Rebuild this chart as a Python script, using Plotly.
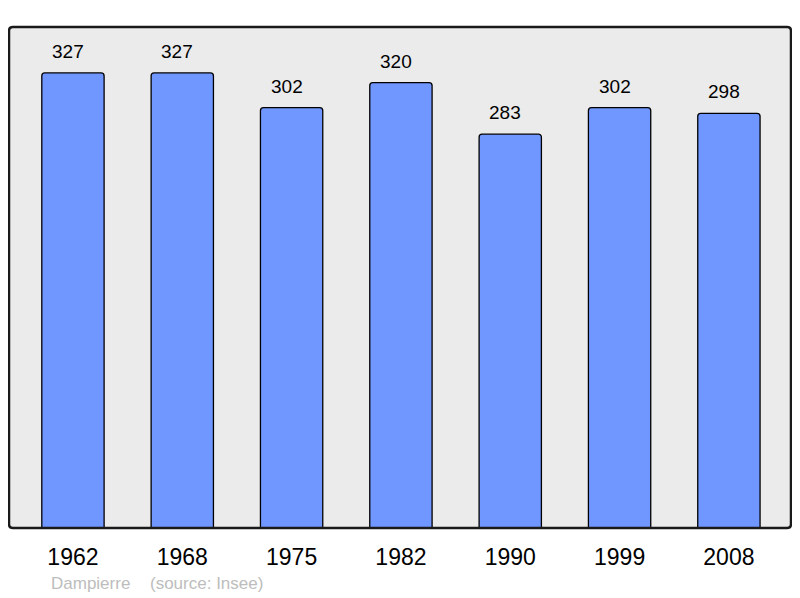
import plotly.graph_objects as go

years = ["1962", "1968", "1975", "1982", "1990", "1999", "2008"]
population = [327, 327, 302, 320, 283, 302, 298]
commune = "Dampierre"
source = "(source: Insee)"

FONT = "Liberation Sans, Arial, sans-serif"

fig = go.Figure()
fig.add_trace(go.Bar(
    x=list(range(len(years))), y=population,
    width=0.57,
    marker=dict(color="#7096ff", line=dict(color="#000000", width=1.3), cornerradius=3),
    hoverinfo="skip",
))

for i, v in enumerate(population):
    fig.add_annotation(x=i, y=v, xref="x", yref="y", text=str(v), showarrow=False,
                       yanchor="bottom", yshift=9, xshift=-5,
                       font=dict(family=FONT, size=19, color="#000"))

fig.add_annotation(xref="paper", yref="paper", x=0.0512, y=-0.11, xanchor="left", yanchor="middle",
                   text=commune, showarrow=False,
                   font=dict(family=FONT, size=17, color="#bdbdbd"))
fig.add_annotation(xref="paper", yref="paper", x=0.1777, y=-0.11, xanchor="left", yanchor="middle",
                   text=source, showarrow=False,
                   font=dict(family=FONT, size=17, color="#bdbdbd"))

# rounded border around plot area (paper coords)
rx, ry = 0.005, 0.008
path = (f"M {rx},0 L {1-rx},0 Q 1,0 1,{ry} L 1,{1-ry} Q 1,1 {1-rx},1 "
        f"L {rx},1 Q 0,1 0,{1-ry} L 0,{ry} Q 0,0 {rx},0 Z")
fig.add_shape(type="path", xref="paper", yref="paper", path=path,
              line=dict(color="#1a1a1a", width=2.5), layer="above")

fig.update_layout(
    width=800, height=598,
    margin=dict(l=1, r=17, t=19, b=78),
    paper_bgcolor="#ffffff", plot_bgcolor="#ebebeb",
    showlegend=False,
    xaxis=dict(range=[-0.585, 6.568], showgrid=False, zeroline=False,
               showline=False, ticks="", ticklabelstandoff=13,
               tickmode="array", tickvals=list(range(len(years))), ticktext=years,
               tickfont=dict(family=FONT, size=23, color="#000")),
    yaxis=dict(range=[0, 360], showgrid=False, zeroline=False, showticklabels=False,
               showline=False, ticks=""),
)

fig.write_html("out.html")
